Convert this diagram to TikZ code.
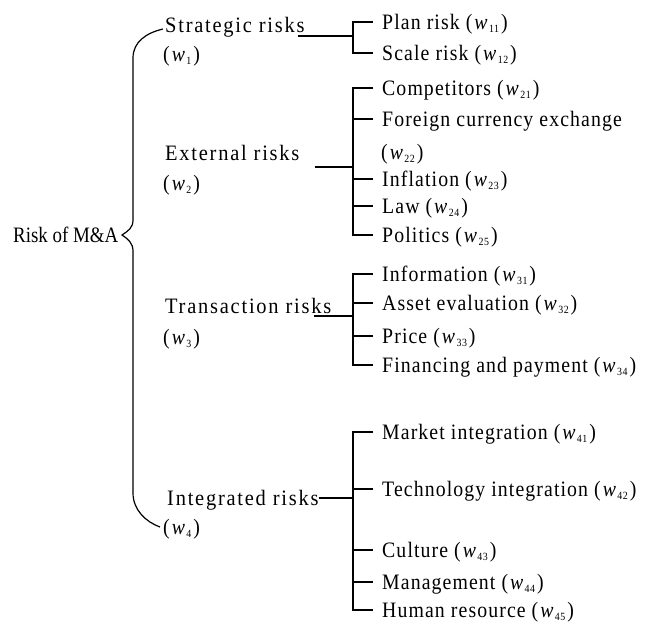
\documentclass[tikz,border=0pt]{standalone}
\usepackage{fontspec}
\setmainfont{Liberation Serif}[FakeStretch=0.9,LetterSpace=5]
\newfontfamily\catfont{Liberation Serif}[FakeStretch=0.93,LetterSpace=8]
\newfontfamily\rootfont{Liberation Serif}[FakeStretch=0.86]
\usetikzlibrary{calc}
\newcommand{\wsub}[1]{(\kern2pt\textit{w}\kern0.3pt\raisebox{-3pt}{\fontsize{11}{11}\selectfont #1}\kern2pt)}
\begin{document}
\begin{tikzpicture}[x=1pt,y=-1pt,
  every node/.style={font=\fontsize{22}{26}\selectfont, inner sep=0pt},
  ln/.style={line width=1.2pt, black},
  item/.style={anchor=base west},
  cat/.style={anchor=base west, font=\catfont\fontsize{22}{26}\selectfont}]
\fill[white] (0,0) rectangle (649,624);
\useasboundingbox (0,0) rectangle (649,624);

% root
\node[anchor=base west, font=\rootfont\fontsize{22}{26}\selectfont] (root) at (13,242) {Risk of M\&A};

% categories
\node[cat] (c1) at (165,32) {Strategic risks};
\node[item] (c1w) at (163,61) {\wsub{1}};
\node[cat] (c2) at (165,160) {External risks};
\node[item] (c2w) at (163,190) {\wsub{2}};
\node[cat] (c3) at (165,313) {Transaction risks};
\node[item] (c3w) at (163,344) {\wsub{3}};
\node[cat] (c4) at (167,505) {Integrated risks};
\node[item] (c4w) at (163,534) {\wsub{4}};

% items
\node[item] (i11) at (382,29) {Plan risk \wsub{11}};
\node[item] (i12) at (382,60) {Scale risk \wsub{12}};
\node[item] (i21) at (382,95) {Competitors \wsub{21}};
\node[item] (i22) at (382,126) {Foreign currency exchange};
\node[item] (i22w) at (381,159) {\wsub{22}};
\node[item] (i23) at (382,186) {Inflation \wsub{23}};
\node[item] (i24) at (382,213) {Law \wsub{24}};
\node[item] (i25) at (382,242) {Politics \wsub{25}};
\node[item] (i31) at (382,281) {Information \wsub{31}};
\node[item] (i32) at (382,310) {Asset evaluation \wsub{32}};
\node[item] (i33) at (382,343) {Price \wsub{33}};
\node[item] (i34) at (382,372) {Financing and payment \wsub{34}};
\node[item] (i41) at (382,439) {Market integration \wsub{41}};
\node[item] (i42) at (382,496) {Technology integration \wsub{42}};
\node[item] (i43) at (382,557) {Culture \wsub{43}};
\node[item] (i44) at (382,589) {Management \wsub{44}};
\node[item] (i45) at (382,617) {Human resource \wsub{45}};

% tick points
\foreach \n in {11,12,21,22,23,24,25,31,32,33,34,41,42,43,44,45}
  \coordinate (t\n) at ($(i\n.base west)+(-9,-7)$);

% junctions
\coordinate (j1) at (353,36);
\coordinate (j2) at (353,167);
\coordinate (j3) at (353,316);
\coordinate (j4) at (353,498);

% category connectors
\draw[ln] ($(c1.base east |- j1)+(-7,0)$) -- (j1);
\draw[ln] ($(c2.base east |- j2)+(15,0)$) -- (j2);
\draw[ln] ($(c3.base east |- j3)+(-17,0)$) -- (j3);
\draw[ln] ($(c4.base east |- j4)+(0,0)$) -- (j4);

% brackets
\draw[ln] (t11) -| (j1) |- (t12);
\draw[ln] (t21) -| (j2) |- (t25);
\foreach \n in {22,23,24} \draw[ln] (t\n) -- (t\n -| j2);
\draw[ln] (t31) -| (j3) |- (t34);
\foreach \n in {32,33} \draw[ln] (t\n) -- (t\n -| j3);
\draw[ln] (t41) -| (j4) |- (t45);
\foreach \n in {42,43,44} \draw[ln] (t\n) -- (t\n -| j4);

% brace
\draw[ln] (163,29) .. controls (146,33) and (133,42) .. (133,58) -- (133,220)
  .. controls (133,228) and (128,231) .. (122,235)
  .. controls (128,239) and (133,243) .. (133,251) -- (133,493)
  .. controls (133,510) and (146,522) .. (160,527);
\end{tikzpicture}
\end{document}
